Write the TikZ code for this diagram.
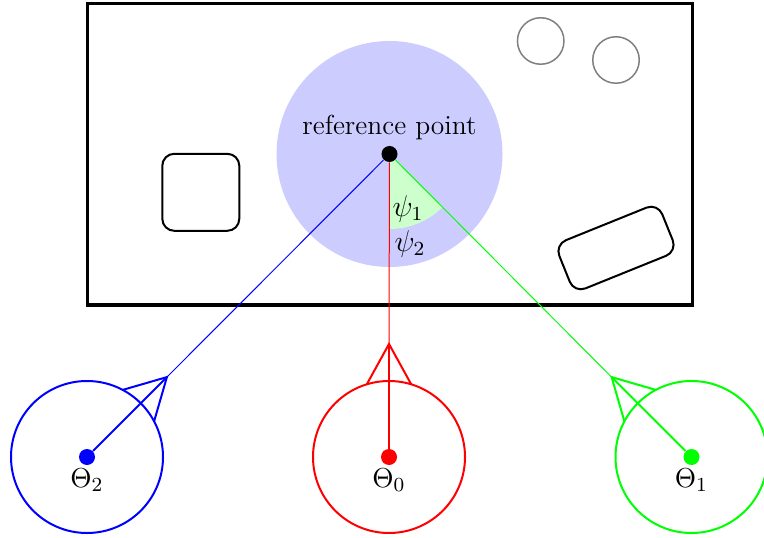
\documentclass[tikz,border=0pt]{standalone}
\usetikzlibrary{calc}
\begin{document}
\begin{tikzpicture}[x=0.4pt,y=-0.4pt,
  font=\fontsize{11}{13}\selectfont,
  camcircle/.style={draw, circle, thick, minimum size=60.8pt, inner sep=0pt},
  bigdot/.style={circle, fill, inner sep=0pt, minimum size=6.4pt},
  obst/.style={draw, thick, rounded corners=4.8pt, inner sep=0pt},
  smallobst/.style={draw=gray, semithick, circle, minimum size=18.6pt, inner sep=0pt}]
\useasboundingbox (0,0) rectangle (764,538);
% frame
\draw[very thick] (87,4) rectangle (692,305);
% reference point area
\coordinate (refc) at (389.5,154);
\fill[blue!20] (refc) circle (45.2pt);
\fill[green!20] (refc) -- ++(-90:30pt) arc[start angle=-90, end angle=-45, radius=30pt] -- cycle;
\node[bigdot] (ref) at (refc) {};
\node[above, inner sep=2pt] (reflabel) at (ref.north) {reference point};
\node[font=\fontsize{12}{14}\selectfont] (psi1) at (408,209) {$\psi_1$};
\node[font=\fontsize{12}{14}\selectfont] (psi2) at (410,244) {$\psi_2$};
% obstacles
\node[smallobst] (g1) at (540.7,41) {};
\node[smallobst] (g2) at (616,60) {};
\node[obst, minimum size=30.8pt] (o1) at (200.8,192.3) {};
\node[obst, rotate=22, minimum width=44.4pt, minimum height=20.8pt] (o2) at (616,248) {};
% cameras
\foreach \nm/\col/\px/\ang/\lab in {c2/blue/87/45/2, c0/red/389/90/0, c1/green/691.5/135/1}{
  \node[camcircle, draw=\col] (\nm) at (\px,457) {};
  \node[bigdot, fill=\col] (\nm d) at (\px,457) {};
  \node[below, inner sep=1pt] (\nm l) at (\nm d.south) {$\Theta_{\lab}$};
  \coordinate (\nm a) at ([shift={(\ang:45.2pt)}]\nm.center);
  \coordinate (\nm p) at ([shift={(\ang+17:30.4pt)}]\nm.center);
  \coordinate (\nm q) at ([shift={(\ang-17:30.4pt)}]\nm.center);
  \draw[\col] (ref) -- (\nm a);
  \draw[\col, thick] (\nm d) -- (\nm a);
  \draw[\col, thick] (\nm p) -- (\nm a) -- (\nm q);
}
\end{tikzpicture}
\end{document}
